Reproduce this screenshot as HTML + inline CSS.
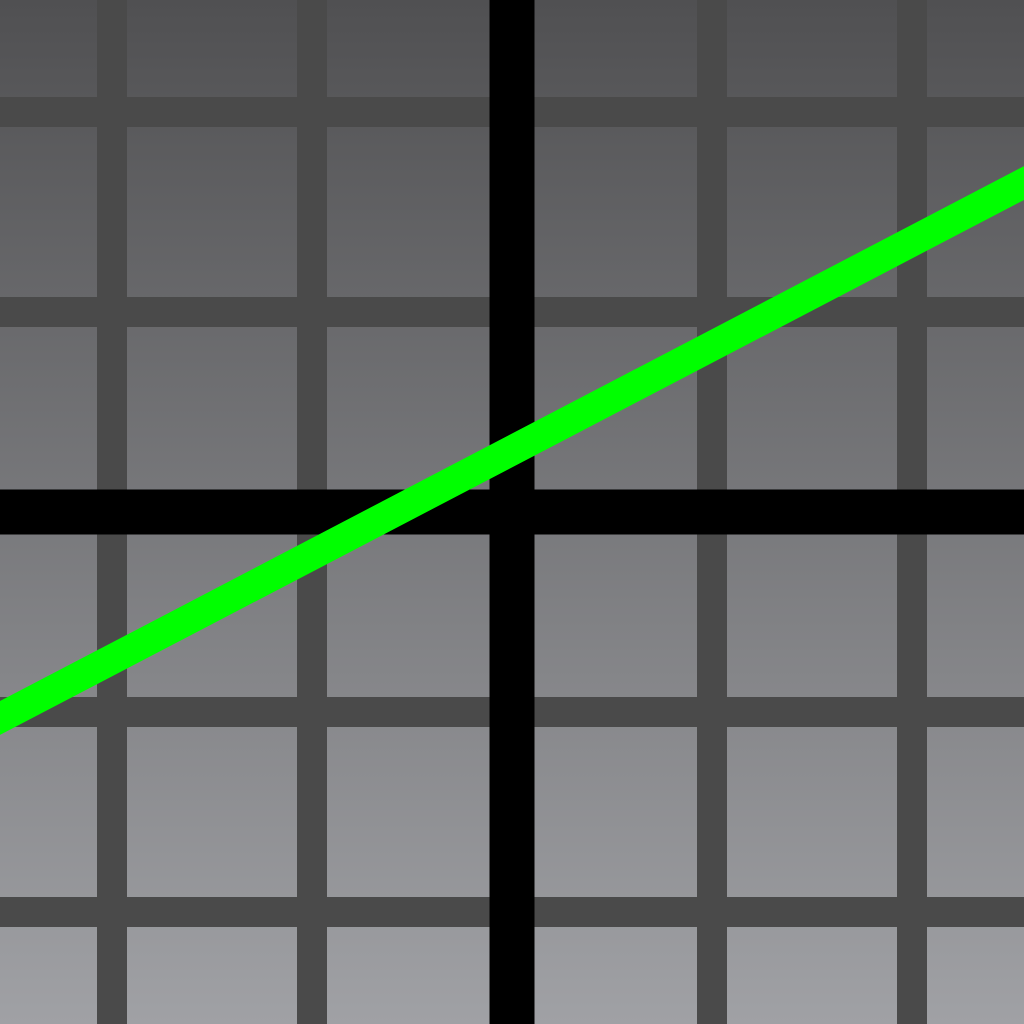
<!DOCTYPE html>
<html><head><meta charset="utf-8"><style>html,body{margin:0;padding:0;width:1024px;height:1024px;overflow:hidden}</style></head>
<body>
<svg id="chart" width="1024" height="1024" viewBox="0 0 1024 1024" xmlns="http://www.w3.org/2000/svg">
<defs><linearGradient id="bg" x1="0" y1="0" x2="0" y2="1"><stop offset="0" stop-color="#505052"/><stop offset="1" stop-color="#a0a1a5"/></linearGradient></defs>
<rect x="0" y="0" width="1024" height="1024" fill="url(#bg)"/>
<g id="grid"></g><g id="axes"></g><g id="series"></g>
</svg>
<script>
const gridTicks = [-2, -1, 1, 2];
const lineX = [-2.7, 2.7];
const lineY = [-1.103, 1.718];
const sx = v => 512 + v * 200;
const sy = v => 512 - v * 200;
const NS = 'http://www.w3.org/2000/svg';
function ln(parent, x1, y1, x2, y2, stroke, w) {
  const l = document.createElementNS(NS, 'line');
  l.setAttribute('x1', x1); l.setAttribute('y1', y1); l.setAttribute('x2', x2); l.setAttribute('y2', y2);
  l.setAttribute('stroke', stroke); l.setAttribute('stroke-width', w);
  parent.appendChild(l); return l;
}
const grid = document.getElementById('grid');
gridTicks.forEach(t => {
  const v = ln(grid, sx(t), 0, sx(t), 1024, '#4a4a4a', 30);
  
  
  const h = ln(grid, 0, sy(t), 1024, sy(t), '#4a4a4a', 30);
  
  
});
const axes = document.getElementById('axes');
const xa = ln(axes, 0, sy(0), 1024, sy(0), '#000', 45);


const ya = ln(axes, sx(0), 0, sx(0), 1024, '#000', 45);


const series = document.getElementById('series');
const p = document.createElementNS(NS, 'polyline');
p.setAttribute('points', lineX.map((x, i) => sx(x) + ',' + sy(lineY[i])).join(' '));
p.setAttribute('fill', 'none'); p.setAttribute('stroke', '#00ff00'); p.setAttribute('stroke-width', 30);


series.appendChild(p);
</script>
</body></html>
